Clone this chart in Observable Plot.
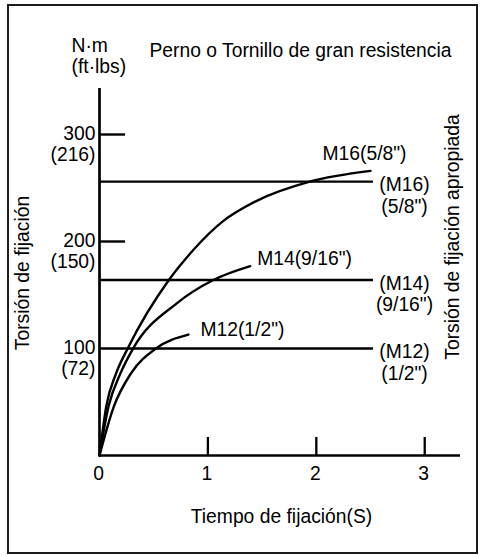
<!DOCTYPE html>
<html>
<head>
<meta charset="utf-8">
<script src="https://cdn.jsdelivr.net/npm/d3@7"></script>
<script src="https://cdn.jsdelivr.net/npm/@observablehq/plot@0.6"></script>
<style>
  body { margin: 0; background: #fff; }
  #wrap { position: relative; width: 481px; height: 556px; }
  #frame { position: absolute; left: 7px; top: 4px; width: 471px; height: 550px;
           box-sizing: border-box; border: 2px solid #1c1c1c; pointer-events: none; }
</style>
</head>
<body>
<div id="wrap"><div id="frame"></div></div>
<script>
// Bolt sizes and their recommended tightening torque (N·m)
const sizes = ["M12", "M14", "M16"];
const inches = ['1/2"', '9/16"', '5/8"'];
const recommendedTorque = [100, 164, 256];

// Tightening torque build-up over time for each size (time in s, torque in N·m)
const m12Time = [0, 0.132, 0.292, 0.52, 0.82];
const m12Torque = [0, 45.7, 77, 100, 113];
const m14Time = [0, 0.083, 0.194, 0.31, 0.71, 1.05, 1.39];
const m14Torque = [0, 45.7, 77, 100, 142, 164, 177];
const m16Time = [0, 0.062, 0.154, 0.26, 0.64, 0.865, 1.14, 1.45, 1.94, 2.50];
const m16Torque = [0, 45.7, 77, 100, 164, 192, 219, 238, 256, 266];

// Axis ticks
const torqueLabelsNm = [100, 200, 300];
const torqueLabelsFtLb = [72, 150, 216];
const torqueTickMarks = [200, 300];
const timeLabels = [0, 1, 2, 3];
const timeTickMarks = [1, 2, 3];

// Texts
const title = "Perno o Tornillo de gran resistencia";
const unitLabel = "N·m\n(ft·lbs)";
const xTitle = "Tiempo de fijación(S)";
const yTitle = "Torsión de fijación";
const rightTitle = "Torsión de fijación apropiada";

// Build tables
const series = [
  {size: sizes[0], inch: inches[0], t: m12Time, v: m12Torque},
  {size: sizes[1], inch: inches[1], t: m14Time, v: m14Torque},
  {size: sizes[2], inch: inches[2], t: m16Time, v: m16Torque}
];
const curveRows = series.flatMap(s => s.t.map((t, i) => ({size: s.size, inch: s.inch, t, torque: s.v[i]})));
const guideRows = sizes.map((size, i) => ({size, inch: inches[i], torque: recommendedTorque[i]}));
const yLabelRows = torqueLabelsNm.map((nm, i) => ({nm, ft: torqueLabelsFtLb[i]}));

const width = 481, height = 556;
const marginTop = 88, marginRight = 21, marginBottom = 101, marginLeft = 99;
const plotW = width - marginLeft - marginRight;
const plotH = height - marginTop - marginBottom;
const fs = 19.3;
const lh = 1.12;
const font = "'Liberation Sans', Arial, Helvetica, sans-serif";

// Per-series placement of the curve-end labels
const endLabelStyle = {
  M12: {textAnchor: "start", dx: 12, dy: 1.7},
  M14: {textAnchor: "start", dx: 7, dy: -1.4},
  M16: {textAnchor: "middle", dx: -6, dy: -11}
};

const chart = Plot.plot({
  width, height, marginTop, marginRight, marginBottom, marginLeft,
  style: {fontFamily: font, fontSize: fs + "px", color: "#000", background: "transparent"},
  x: {domain: [0, 3.33], axis: null},
  y: {domain: [0, 343], axis: null},
  marks: [
    // axis lines
    Plot.ruleX([0], {stroke: "#000", strokeWidth: 2.7}),
    Plot.ruleY([0], {stroke: "#000", strokeWidth: 2.7}),
    // inward tick marks
    Plot.tickY(torqueTickMarks, {y: d => d, insetRight: plotW - 26, stroke: "#000", strokeWidth: 2.4}),
    Plot.tickX(timeTickMarks, {x: d => d, insetTop: plotH - 18, stroke: "#000", strokeWidth: 2.3}),
    // y tick labels (N·m over ft·lbs)
    Plot.text(yLabelRows, {
      y: "nm", text: d => `${d.nm}\n(${d.ft})`, frameAnchor: "left",
      textAnchor: "end", lineAnchor: "top", lineHeight: lh, dx: -4, dy: -10.2, fontSize: fs, fill: "#000"
    }),
    // x tick labels
    Plot.text(timeLabels, {
      x: d => d, text: d => String(d), frameAnchor: "bottom", textAnchor: "middle",
      lineAnchor: "top", dy: 10.5, dx: -1, fontSize: fs, fill: "#000"
    }),
    // recommended torque guides
    Plot.ruleY(guideRows, {y: "torque", insetRight: plotW - 274, stroke: "#000", strokeWidth: 2.4}),
    Plot.text(guideRows, {
      y: "torque", text: d => `(${d.size})\n(${d.inch})`, frameAnchor: "right",
      textAnchor: "middle", lineAnchor: "top", lineHeight: lh, dx: -56, dy: -5.7, fontSize: fs, fill: "#000"
    }),
    // torque build-up curves
    Plot.line(curveRows, {x: "t", y: "torque", z: "size", curve: "monotone-x", stroke: "#000", strokeWidth: 2.4}),
    ...sizes.map(size => Plot.text(curveRows.filter(d => d.size === size), Plot.selectLast({
      x: "t", y: "torque", text: d => `${d.size}(${d.inch})`,
      lineAnchor: "bottom", fontSize: fs, fill: "#000", ...endLabelStyle[size]
    }))),
    // titles
    Plot.text([title], {
      frameAnchor: "top-left", textAnchor: "start", lineAnchor: "bottom",
      dx: 50, dy: -32, fontSize: fs, fill: "#000"
    }),
    Plot.text([unitLabel], {
      frameAnchor: "top-left", textAnchor: "start", lineAnchor: "top", lineHeight: lh,
      dx: -28, dy: -52.2, fontSize: fs, fill: "#000"
    }),
    Plot.text([xTitle], {
      frameAnchor: "bottom", textAnchor: "middle", lineAnchor: "bottom", dx: 1.5, dy: 67, fontSize: fs, fill: "#000"
    }),
    Plot.text([yTitle], {
      frameAnchor: "left", textAnchor: "middle", rotate: -90, lineAnchor: "middle",
      dx: -77, dy: 1, fontSize: fs, fill: "#000"
    }),
    Plot.text([rightTitle], {
      frameAnchor: "right", textAnchor: "middle", rotate: -90, lineAnchor: "middle",
      dx: -8, dy: -35, fontSize: fs, fill: "#000"
    })
  ]
});

document.getElementById("wrap").prepend(chart);
</script>
</body>
</html>
